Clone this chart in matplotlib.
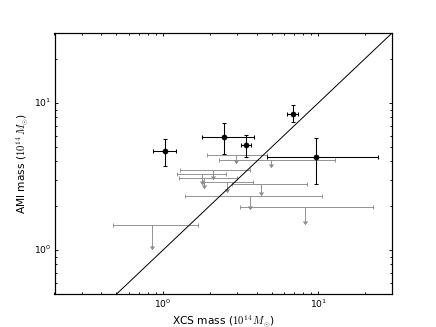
"""
AMI vs XCS cluster masses, log-log, with upper limits for non-detections.
"""

import numpy as np
import matplotlib
matplotlib.use("Agg")
import matplotlib.pyplot as plt

plt.style.use("classic")

# detections (black points): XCS mass, AMI mass, 1-sigma bounds (1e14 Msun)
xcs_det = [1.035, 2.48, 3.41, 6.83, 9.71]
xcs_det_lo = [0.867, 1.79, 3.16, 6.32, 4.65]
xcs_det_hi = [1.206, 3.83, 3.67, 7.36, 24.3]
ami_det = [4.69, 5.90, 5.18, 8.46, 4.29]
ami_det_lo = [3.71, 4.48, 4.29, 7.39, 2.80]
ami_det_hi = [5.72, 7.27, 6.06, 9.69, 5.81]

# non-detections (grey upper limits)
xcs_lim = [2.94, 4.94, 2.10, 1.775, 1.845, 2.57, 4.25, 3.63, 8.21, 0.853]
xcs_lim_lo = [1.92, 2.30, 1.29, 1.225, 1.27, 1.81, 2.77, 1.39, 3.13, 0.479]
xcs_lim_hi = [4.65, 12.8, 3.63, 2.53, 2.98, 3.82, 8.42, 10.64, 22.4, 1.67]
ami_lim = [4.41, 4.12, 3.52, 3.31, 3.11, 2.90, 2.80, 2.34, 1.96, 1.49]
ami_lim_tip = [3.92, 3.64, 3.03, 2.83, 2.62, 2.49, 2.36, 1.89, 1.50, 1.02]


def main():
    plt.rcParams["axes.linewidth"] = 1.6
    plt.rcParams["lines.linewidth"] = 1.3

    fig = plt.figure(figsize=(8, 6))
    fig.patch.set_facecolor("white")
    ax = fig.add_subplot(111)

    grey = "0.55"
    x = np.array(xcs_lim)
    y = np.array(ami_lim)
    xerr = [x - np.array(xcs_lim_lo), np.array(xcs_lim_hi) - x]
    ax.errorbar(x, y, xerr=xerr, fmt="none", ecolor=grey, capsize=3,
                elinewidth=1.2, capthick=1.2)
    ax.vlines(x, ami_lim_tip, y, color=grey, linewidth=1.2)
    ax.plot(x, ami_lim_tip, ls="none", marker=7, ms=6, mec=grey,
            mfc=grey, mew=1.2)

    x = np.array(xcs_det)
    y = np.array(ami_det)
    xerr = [x - np.array(xcs_det_lo), np.array(xcs_det_hi) - x]
    yerr = [y - np.array(ami_det_lo), np.array(ami_det_hi) - y]
    ax.errorbar(x, y, xerr=xerr, yerr=yerr, fmt="ko", ecolor="k",
                capsize=3, ms=7, elinewidth=1.4, capthick=1.4)

    ax.plot([0.1, 100], [0.1, 100], "k-", linewidth=1.3)

    ax.set_xscale("log")
    ax.set_yscale("log")
    ax.set_xlim(0.2, 30)
    ax.set_ylim(0.5, 30)
    ax.tick_params(which="both", width=1.2)
    ax.set_xlabel(r"XCS mass ($10^{14}\,M_{\odot}$)", fontsize=14)
    ax.set_ylabel(r"AMI mass ($10^{14}\,M_{\odot}$)", fontsize=14)

    fig.savefig("out.png", dpi=54.5, facecolor="white")


if __name__ == "__main__":
    main()
